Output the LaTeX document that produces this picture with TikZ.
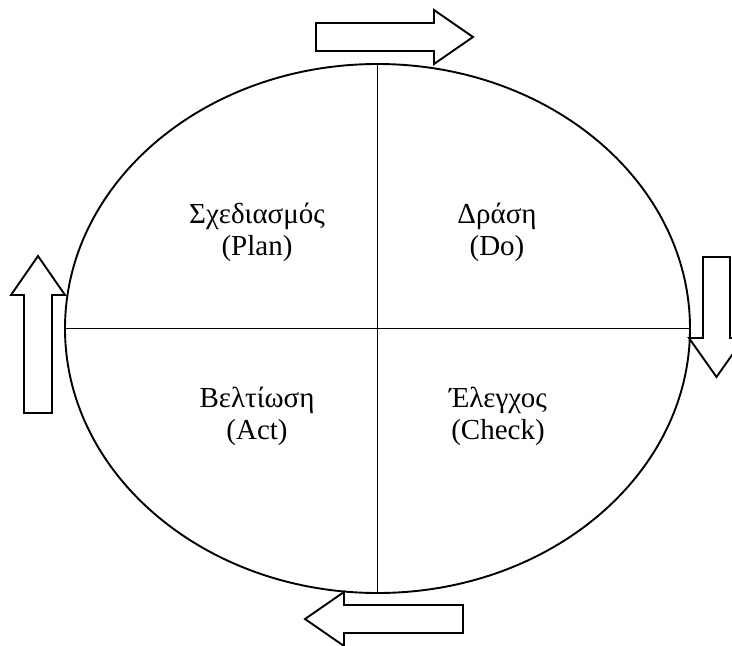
\documentclass[tikz,border=0pt]{standalone}
\usepackage{fontspec}
\setmainfont{Liberation Serif}
\tikzset{
  cycleline/.style={line width=1.9pt},
  blockarrow/.style={draw,line width=1.9pt,fill=white,line join=miter},
  phase/.style={align=center,font=\fontsize{29}{32}\selectfont,inner sep=0pt}
}
\begin{document}
\begin{tikzpicture}[x=1pt,y=-1pt]
\useasboundingbox (0,0) rectangle (732,646);
\coordinate (c) at (377.5,328.5);
\draw [cycleline] (c) ellipse (312.5pt and 264.5pt);
\coordinate (top) at (377.5,64);
\coordinate (bot) at (377.5,593);
\coordinate (lft) at (65,328.5);
\coordinate (rgt) at (690,328.5);
\draw [cycleline] (top) -- (bot);
\draw [cycleline] (lft) -- (rgt);

\node [phase] (plan) at (257,232) {Σχεδιασμός\\(Plan)};
\node [phase] (do) at (497,232) {Δράση\\(Do)};
\node [phase] (act) at (257,416) {Βελτίωση\\(Act)};
\node [phase] (check) at (498,416) {Έλεγχος\\(Check)};

% block arrows round the cycle
\draw [blockarrow] (316,23) -- (434,23) -- (434,10) -- (473,37) -- (434,64) -- (434,51) -- (316,51) -- cycle;
\draw [blockarrow] (703,257) -- (703,338) -- (689,338) -- (716.5,377) -- (744,338) -- (730,338) -- (730,257) -- cycle;
\draw [blockarrow] (463,605) -- (344,605) -- (344,592) -- (305,619) -- (344,646) -- (344,633) -- (463,633) -- cycle;
\draw [blockarrow] (24,413) -- (24,295) -- (11,295) -- (38,256) -- (65,295) -- (52,295) -- (52,413) -- cycle;
\end{tikzpicture}
\end{document}
